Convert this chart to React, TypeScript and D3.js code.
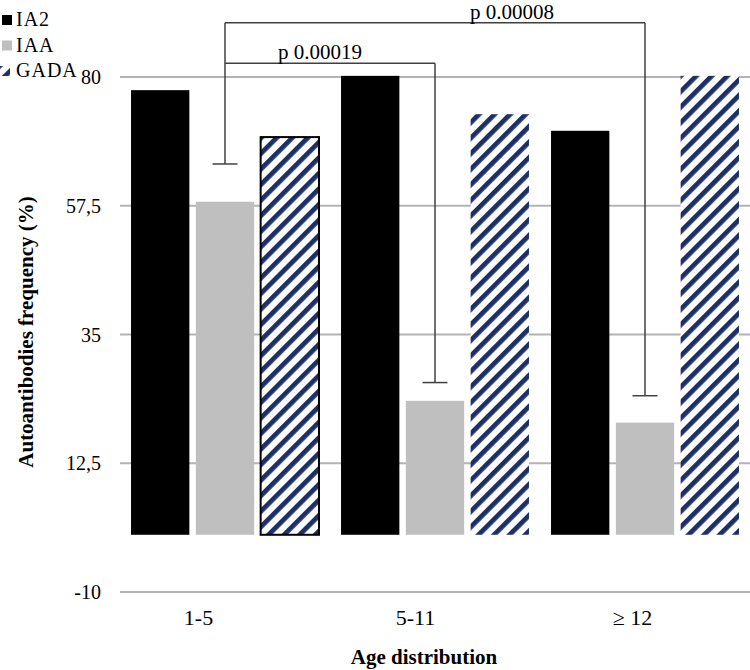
import React from "react";
import * as d3 from "d3";

// values (percent)
const categories = ["1-5", "5-11", "≥ 12"];
const series = ["IA2", "IAA", "GADA"];
const ia2Values = [77.7, 80.2, 70.6];
const iaaValues = [58.2, 23.4, 19.6];
const gadaValues = [69.5, 73.5, 80.2];
const yTicks = [-10, 12.5, 35, 57.5, 80];
// tops of the significance legs drawn above each IAA bar
const legEnds = [64.8, 26.6, 24.3];
const brackets = [
  { from: "1-5", to: "5-11", level: 82.4, label: "p 0.00019" },
  { from: "1-5", to: "≥ 12", level: 89.5, label: "p 0.00008" },
];

const width = 750,
  height = 670;
const plot = { left: 120, right: 750, top: 77, bottom: 592 };
const labelDx = [-10, 77];
const font = "'Liberation Serif', 'Times New Roman', serif";
const navy = "#1c2f68";
const lineColor = "#404040";

const valuesBySeries: Record<string, number[]> = {
  IA2: ia2Values,
  IAA: iaaValues,
  GADA: gadaValues,
};

const fillFor = (s: string) =>
  s === "IA2" ? "#000000" : s === "IAA" ? "#bfbfbf" : "url(#gadaStripes)";

const App = () => {
  const x = d3
    .scaleBand<string>()
    .domain(categories)
    .range([plot.left, plot.right])
    .paddingInner(0.105)
    .paddingOuter(0.0525);
  const xInner = d3
    .scaleBand<string>()
    .domain(series)
    .range([0, x.bandwidth()])
    .paddingInner(0.1);
  // category labels sit a little left of the bar groups in the original
  const xLabel = d3.scaleBand<string>().domain(categories).range([90, 741]);
  const y = d3
    .scaleLinear()
    .domain([-10, 80])
    .range([plot.bottom, plot.top]);

  const iaaCenter = (cat: string) =>
    (x(cat) ?? 0) + (xInner("IAA") ?? 0) + xInner.bandwidth() / 2;

  return (
    <>
      <style>{`body{margin:0}`}</style>
      <svg width={width} height={height} style={{ display: "block", fontFamily: font }}>
        <defs>
          <pattern
            id="gadaStripes"
            patternUnits="userSpaceOnUse"
            width={11}
            height={11}
            patternTransform="rotate(45)"
          >
            <rect width={11} height={11} fill="#ffffff" />
            <rect width={4.8} height={11} fill={navy} />
          </pattern>
        </defs>

        {/* gridlines */}
        {yTicks.map((t) => (
          <line
            key={t}
            x1={plot.left}
            x2={plot.right}
            y1={y(t)}
            y2={y(t)}
            stroke="#b3b3b3"
            strokeWidth={2}
          />
        ))}

        {/* y tick labels */}
        {yTicks.map((t) => (
          <text
            key={t}
            x={101}
            y={y(t)}
            dy="0.35em"
            textAnchor="end"
            fontSize={20}
          >
            {String(t).replace(".", ",")}
          </text>
        ))}

        {/* bars */}
        {categories.map((cat, ci) => (
          <g key={cat} transform={`translate(${x(cat)},0)`}>
            {series.map((s) => {
              const v = valuesBySeries[s][ci];
              return (
                <rect
                  key={s}
                  x={xInner(s)}
                  y={y(v)}
                  width={xInner.bandwidth()}
                  height={y(0) - y(v)}
                  fill={fillFor(s)}
                  stroke={s === "GADA" && ci === 0 ? "#000" : "none"}
                  strokeWidth={2}
                />
              );
            })}
          </g>
        ))}

        {/* significance legs with caps */}
        {categories.map((cat, ci) => {
          const cx = iaaCenter(cat);
          const top = d3.max(
            brackets.filter((b) => b.from === cat || b.to === cat),
            (b) => b.level
          );
          if (top === undefined) return null;
          return (
            <g key={cat} stroke={lineColor} strokeWidth={1.5}>
              <line x1={cx} x2={cx} y1={y(legEnds[ci])} y2={y(top)} />
              <line
                x1={cx - 12.5}
                x2={cx + 12.5}
                y1={y(legEnds[ci])}
                y2={y(legEnds[ci])}
              />
            </g>
          );
        })}

        {/* brackets */}
        {brackets.map((b, i) => {
          const x1 = iaaCenter(b.from);
          const x2 = iaaCenter(b.to);
          return (
            <g key={b.label}>
              <line
                x1={x1}
                x2={x2}
                y1={y(b.level)}
                y2={y(b.level)}
                stroke={lineColor}
                strokeWidth={1.5}
              />
              <text
                x={(x1 + x2) / 2 + labelDx[i]}
                y={y(b.level) - 4}
                textAnchor="middle"
                fontSize={21}
              >
                {b.label}
              </text>
            </g>
          );
        })}

        {/* x category labels */}
        {categories.map((cat) => (
          <text
            key={cat}
            x={(xLabel(cat) ?? 0) + xLabel.bandwidth() / 2}
            y={625}
            textAnchor="middle"
            fontSize={22}
          >
            {cat}
          </text>
        ))}

        {/* axis titles */}
        <text
          x={424}
          y={664}
          textAnchor="middle"
          fontSize={21}
          fontWeight="bold"
        >
          Age distribution
        </text>
        <text
          transform="translate(33,332) rotate(-90)"
          textAnchor="middle"
          fontSize={21}
          fontWeight="bold"
        >
          Autoantibodies frequency (%)
        </text>

        {/* legend, clipped at the left edge as in the original */}
        {series.map((s, i) => {
          const base = 26 + i * 25.5;
          return (
            <g key={s}>
              <rect
                x={s === "GADA" ? -2 : 2}
                y={base - 11}
                width={s === "GADA" ? 12 : 10}
                height={10}
                fill={fillFor(s)}
              />
              <text x={16} y={base} fontSize={20} letterSpacing={1}>
                {s}
              </text>
            </g>
          );
        })}
      </svg>
    </>
  );
};

export default App;
